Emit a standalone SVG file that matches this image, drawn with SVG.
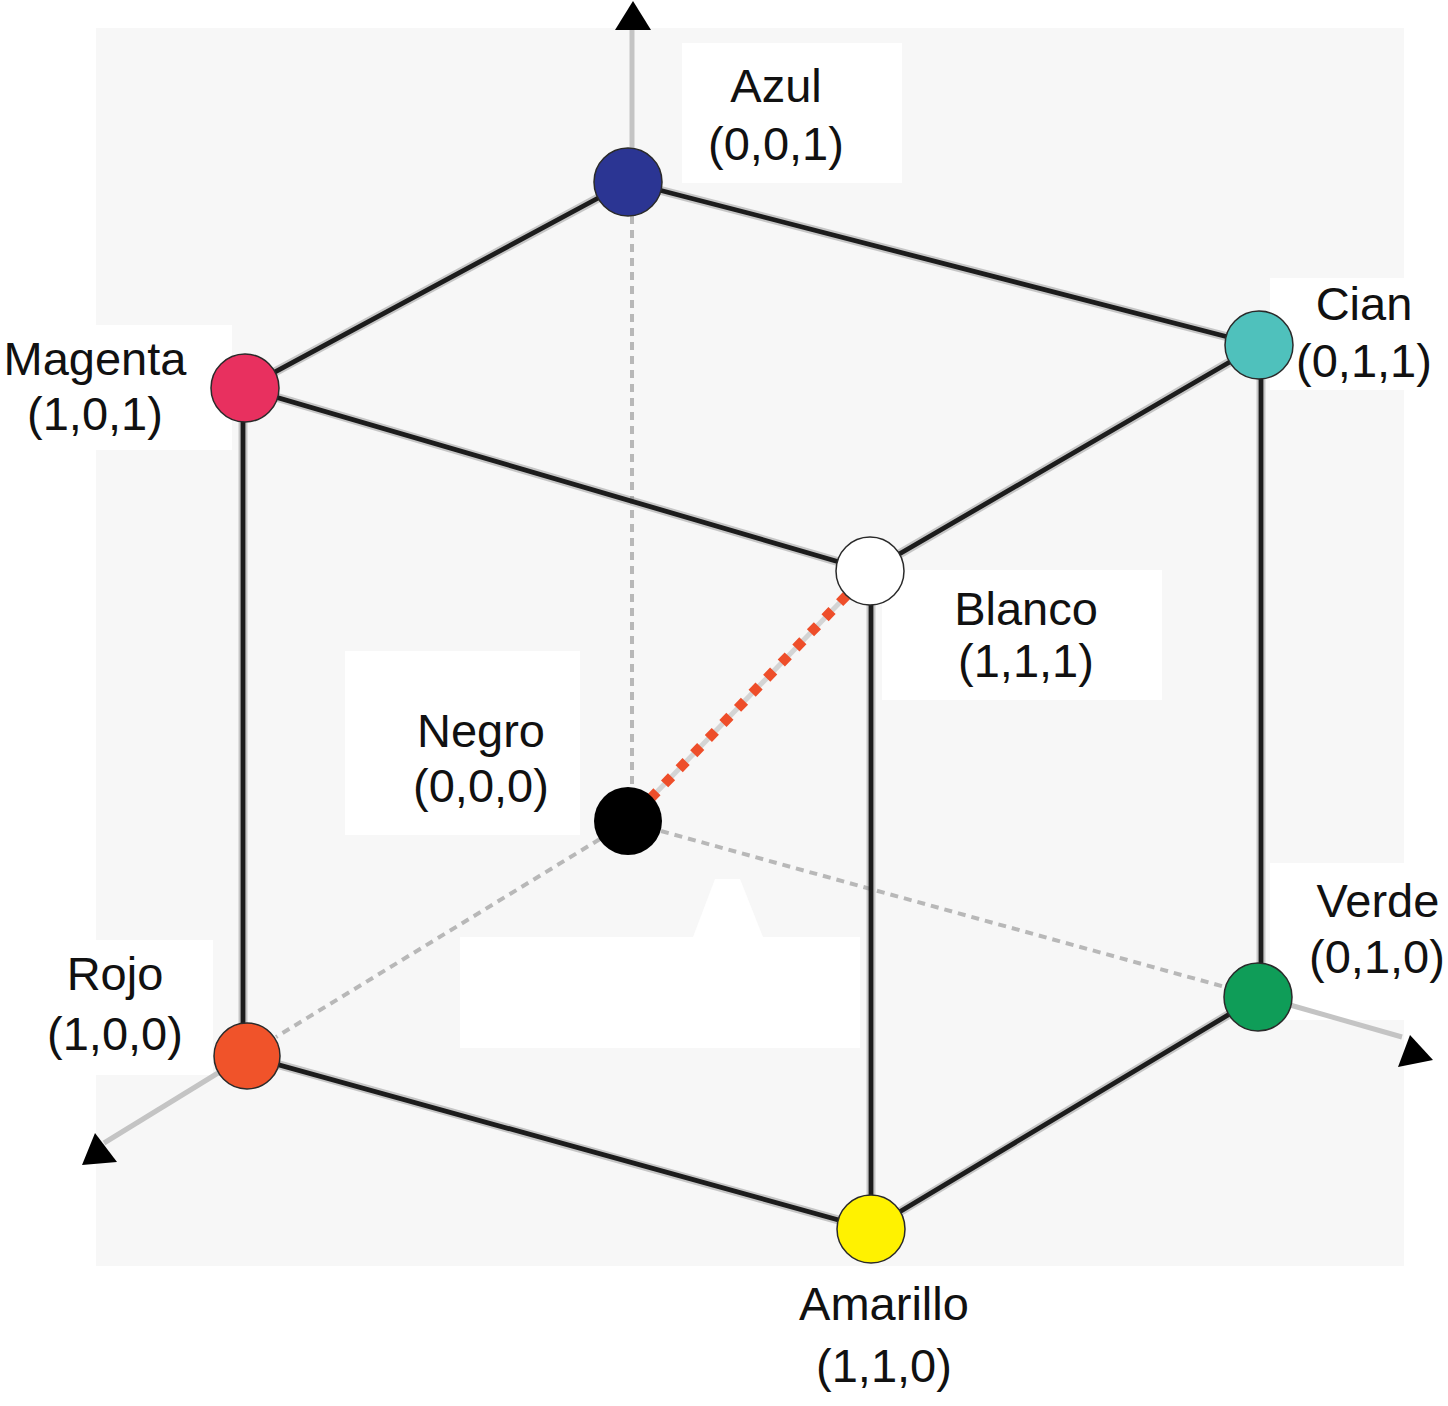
<svg xmlns="http://www.w3.org/2000/svg" width="1448" height="1406" viewBox="0 0 1448 1406">
  <style>
    .lbl { font-family: "Liberation Sans", Arial, Helvetica, sans-serif; font-size: 47px; fill: #111; text-anchor: middle; }
    .edge-halo { stroke: #8a8a8a; stroke-width: 9; stroke-opacity: 0.45; fill: none; }
    .edge { stroke: #1c1c1c; stroke-width: 4.8; fill: none; stroke-linecap: round; }
    .axis { stroke: #c4c4c4; stroke-width: 5; fill: none; }
    .axis-dash { stroke: #b8b8b8; stroke-width: 4; fill: none; stroke-dasharray: 8 6; }
    .head { fill: #000; }
    .node { stroke: #2a2a2a; stroke-width: 1.5; }
  </style>

  <!-- background -->
  <rect x="0" y="0" width="1448" height="1406" fill="#ffffff"/>
  <rect x="96" y="28" width="1308" height="1238" fill="#f7f7f7"/>
  <!-- white patches behind labels -->
  <rect x="682" y="43" width="220" height="140" fill="#ffffff"/>
  <rect x="0" y="325" width="232" height="125" fill="#ffffff"/>
  <rect x="1270" y="278" width="178" height="112" fill="#ffffff"/>
  <rect x="882" y="570" width="280" height="130" fill="#ffffff"/>
  <rect x="345" y="651" width="235" height="184" fill="#ffffff"/>
  <rect x="460" y="937" width="400" height="111" fill="#ffffff"/>
  <polygon points="693,937 715,879 740,879 763,937" fill="#ffffff"/>
  <rect x="0" y="940" width="213" height="135" fill="#ffffff"/>
  <rect x="1270" y="863" width="178" height="157" fill="#ffffff"/>

  <!-- connectors -->
  <g id="connectors">
    <!-- axes -->
    <line class="axis" x1="632" y1="28" x2="632" y2="150"/>
    <line class="axis-dash" x1="632" y1="216" x2="632" y2="790"/>
    <line class="axis-dash" x1="600" y1="839" x2="276" y2="1037"/>
    <line class="axis" x1="218" y1="1073" x2="104" y2="1143"/>
    <line class="axis-dash" x1="661" y1="831" x2="1225" y2="987"/>
    <line class="axis" x1="1290" y1="1005" x2="1402" y2="1037"/>
    <polygon class="head" points="615,30 651,30 633,1"/>
    <polygon class="head" points="82,1165 117,1162 95,1133"/>
    <polygon class="head" points="1398,1067 1433,1060 1410,1035"/>

    <!-- cube edges -->
    <g>
      <line class="edge-halo" x1="628" y1="182" x2="245" y2="388"/>
      <line class="edge-halo" x1="628" y1="182" x2="1259" y2="345"/>
      <line class="edge-halo" x1="245" y1="388" x2="870" y2="571"/>
      <line class="edge-halo" x1="1259" y1="345" x2="870" y2="571"/>
      <line class="edge-halo" x1="243" y1="388" x2="243" y2="1056"/>
      <line class="edge-halo" x1="1261" y1="345" x2="1261" y2="997"/>
      <line class="edge-halo" x1="871" y1="571" x2="871" y2="1229"/>
      <line class="edge-halo" x1="247" y1="1056" x2="871" y2="1229"/>
      <line class="edge-halo" x1="1258" y1="997" x2="871" y2="1229"/>
    </g>
    <line class="edge" x1="628" y1="182" x2="245" y2="388"/>
    <line class="edge" x1="628" y1="182" x2="1259" y2="345"/>
    <line class="edge" x1="245" y1="388" x2="870" y2="571"/>
    <line class="edge" x1="1259" y1="345" x2="870" y2="571"/>
    <line class="edge" x1="243" y1="388" x2="243" y2="1056"/>
    <line class="edge" x1="1261" y1="345" x2="1261" y2="997"/>
    <line class="edge" x1="871" y1="571" x2="871" y2="1229"/>
    <line class="edge" x1="247" y1="1056" x2="871" y2="1229"/>
    <line class="edge" x1="1258" y1="997" x2="871" y2="1229"/>

    <!-- black-white diagonal -->
    <line x1="650" y1="799" x2="848" y2="594" stroke="#d4d4d4" stroke-width="5"/>
    <line x1="650" y1="799" x2="848" y2="594" stroke="#ee4e2a" stroke-width="10" stroke-dasharray="10 11"/>
  </g>

  <!-- nodes -->
  <g id="node-azul">
    <circle class="node" cx="628" cy="182" r="34" fill="#2b3593"/>
    <text class="lbl" x="776" y="102">Azul</text>
    <text class="lbl" x="776" y="160">(0,0,1)</text>
  </g>
  <g id="node-magenta">
    <circle class="node" cx="245" cy="388" r="34" fill="#e8305f"/>
    <text class="lbl" x="95" y="375">Magenta</text>
    <text class="lbl" x="95" y="430">(1,0,1)</text>
  </g>
  <g id="node-cian">
    <circle class="node" cx="1259" cy="345" r="34" fill="#4fc1bc"/>
    <text class="lbl" x="1364" y="320">Cian</text>
    <text class="lbl" x="1364" y="377">(0,1,1)</text>
  </g>
  <g id="node-blanco">
    <circle class="node" cx="870" cy="571" r="34" fill="#ffffff"/>
    <text class="lbl" x="1026" y="625">Blanco</text>
    <text class="lbl" x="1026" y="677">(1,1,1)</text>
  </g>
  <g id="node-negro">
    <circle cx="628" cy="821" r="34" fill="#000000"/>
    <text class="lbl" x="481" y="747">Negro</text>
    <text class="lbl" x="481" y="802">(0,0,0)</text>
  </g>
  <g id="node-rojo">
    <circle class="node" cx="247" cy="1056" r="33" fill="#f0532a"/>
    <text class="lbl" x="115" y="990">Rojo</text>
    <text class="lbl" x="115" y="1050">(1,0,0)</text>
  </g>
  <g id="node-verde">
    <circle class="node" cx="1258" cy="997" r="34" fill="#0f9d58"/>
    <text class="lbl" x="1378" y="917">Verde</text>
    <text class="lbl" x="1377" y="973">(0,1,0)</text>
  </g>
  <g id="node-amarillo">
    <circle class="node" cx="871" cy="1229" r="34" fill="#fff200"/>
    <text class="lbl" x="884" y="1320">Amarillo</text>
    <text class="lbl" x="884" y="1382">(1,1,0)</text>
  </g>
</svg>
